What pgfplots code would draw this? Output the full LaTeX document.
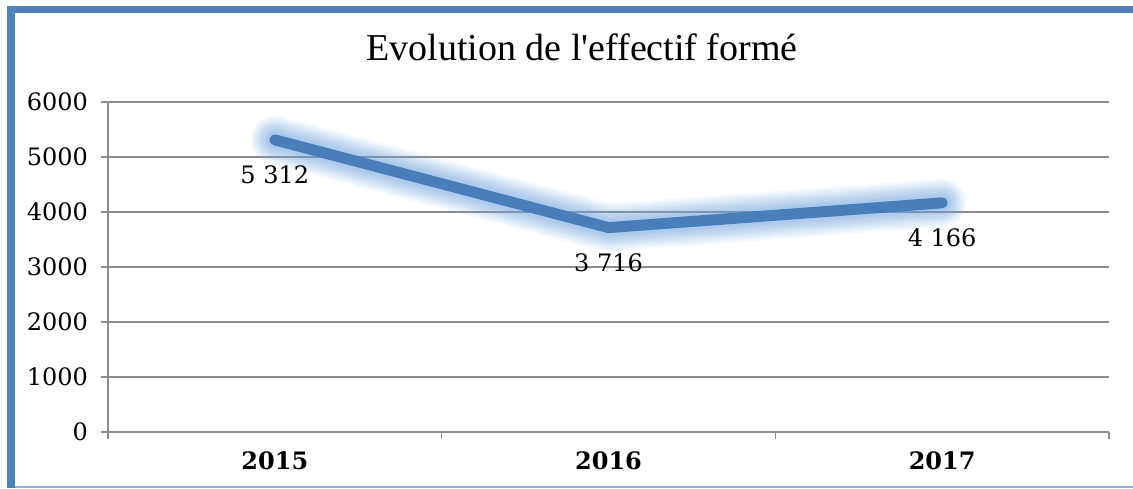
\documentclass[border=0pt]{standalone}
\usepackage{fontspec}
\setmainfont{DejaVu Serif}
\newfontfamily\titlefont{Liberation Serif}
\usepackage{pgfplots}
\pgfplotsset{compat=1.18}
\definecolor{frameblue}{HTML}{4F81BD}
\definecolor{framelight}{HTML}{95B3D7}
\definecolor{lineblue}{HTML}{4A7EBB}
\definecolor{glowblue}{HTML}{6FA5E0}
\definecolor{gridgray}{HTML}{8C8C8C}
\pgfplotstableread{
x y lab
0 5312 {5 312}
1 3716 {3 716}
2 4166 {4 166}
}\datatable
\pgfplotsset{glow/.style={glowblue, line width=#1, opacity=0.07, line cap=round, line join=round, forget plot}}
\begin{document}
\begin{tikzpicture}
\path[use as bounding box] (0,0) rectangle (566.5pt,244pt);
\fill[white] (0,0) rectangle (566.5pt,244pt);
\draw[framelight, line width=0.6pt] (7pt,0.5pt) -- (566.5pt,0.5pt);
\draw[frameblue, line width=3.8pt] (5.5pt,0) -- (5.5pt,239.25pt) -- (566.5pt,239.25pt);
\node[font=\titlefont\fontsize{19}{22}\selectfont] at (291pt,220.5pt) {Evolution de l'effectif formé};
\begin{axis}[
  at={(54pt,28pt)}, anchor=south west, scale only axis,
  width=500.5pt, height=165pt,
  xmin=-0.5, xmax=2.5, ymin=0, ymax=6000,
  axis x line*=bottom, axis y line*=left,
  axis line style={draw=gridgray, line width=0.7pt, -},
  ytick={0,1000,...,6000}, ymajorgrids,
  grid style={draw=gridgray, line width=0.7pt},
  xtick={0,1,2}, xticklabels={\textbf{2015},\textbf{2016},\textbf{2017}},
  minor xtick={-0.5,0.5,1.5,2.5},
  tick align=outside, major tick length=3.5pt, minor tick length=3.5pt,
  tick style={draw=gridgray, line width=0.7pt},
  major x tick style={draw=none},
  y tick label style={font=\fontsize{12}{14}\selectfont, xshift=-3pt, /pgf/number format/assume math mode=true, /pgf/number format/1000 sep={}},
  x tick label style={font=\fontsize{12}{14}\selectfont, yshift=-3pt},
  clip=false,
]
\addplot[glow=24pt] table[x=x,y=y] {\datatable};
\addplot[glow=22pt] table[x=x,y=y] {\datatable};
\addplot[glow=20pt] table[x=x,y=y] {\datatable};
\addplot[glow=18pt] table[x=x,y=y] {\datatable};
\addplot[glow=16.5pt] table[x=x,y=y] {\datatable};
\addplot[glow=15pt] table[x=x,y=y] {\datatable};
\addplot[glow=13.5pt] table[x=x,y=y] {\datatable};
\addplot[glow=12pt] table[x=x,y=y] {\datatable};
\addplot[glow=10.5pt] table[x=x,y=y] {\datatable};
\addplot[glow=9pt] table[x=x,y=y] {\datatable};
\addplot[glow=7.5pt] table[x=x,y=y] {\datatable};
\addplot[lineblue, line width=5.5pt, line cap=round, line join=round,
  nodes near coords, point meta=explicit symbolic,
  every node near coord/.style={anchor=center, yshift=-17.5pt, font=\fontsize{12}{14}\selectfont, text=black}]
  table[x=x,y=y,meta=lab] {\datatable};
\end{axis}
\end{tikzpicture}
\end{document}
